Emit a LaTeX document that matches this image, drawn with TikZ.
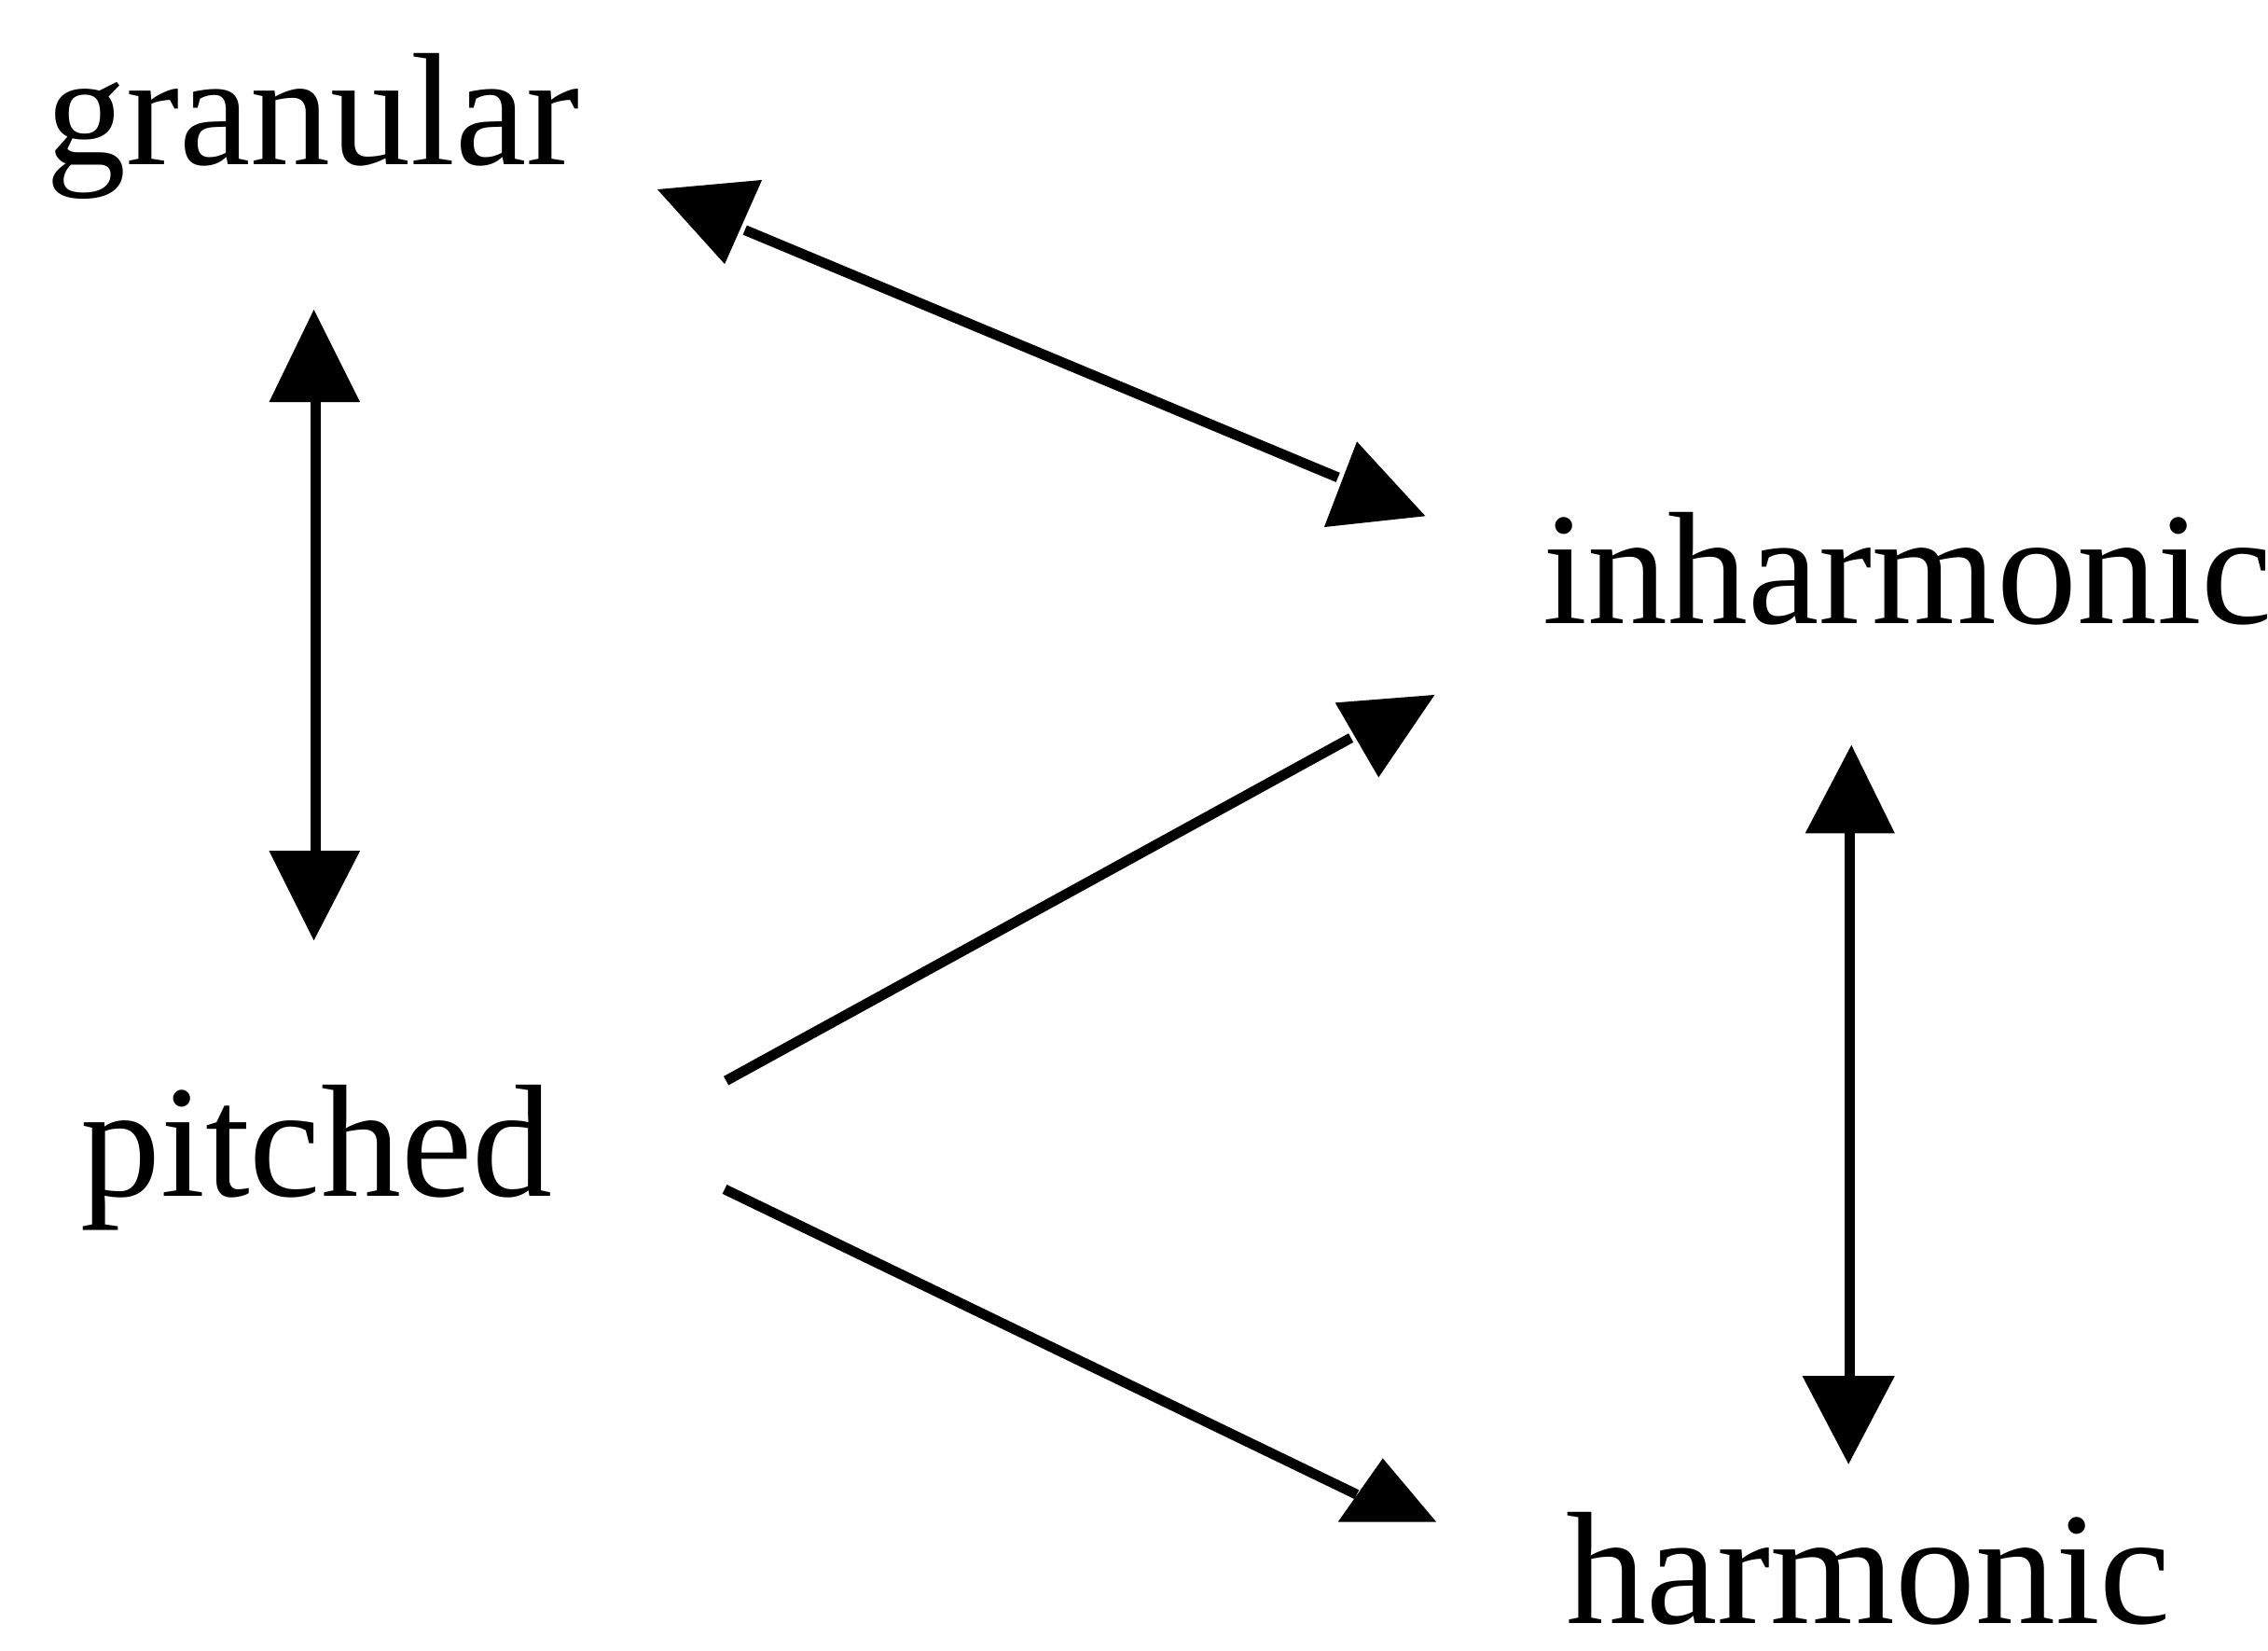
\documentclass[tikz,border=0pt]{standalone}
\usepackage{fontspec}
\setmainfont{Liberation Serif}
\begin{document}
\begin{tikzpicture}[x=0.01cm,y=-0.01cm,
  lbl/.style={anchor=base west,inner sep=0pt,text depth=0pt,
              font=\fontsize{31.5}{36}\selectfont},
  link/.style={line width=0.07cm,line cap=butt},
  tip/.style={fill=black}]
\useasboundingbox (0,0) rectangle (1568,1141);

% labels
\node[lbl] (gran)  at (31,114)   {granular};
\node[lbl] (inh)   at (1066,431) {inharmonic};
\node[lbl] (pitch) at (55,827)   {pitched};
\node[lbl] (harm)  at (1082,1122){harmonic};

% connector end points
\coordinate (gp1) at (218,277);  \coordinate (gp2) at (218,589);
\coordinate (ih1) at (1279,575); \coordinate (ih2) at (1279,952);
\coordinate (gi1) at (515,159);  \coordinate (gi2) at (925,330);
\coordinate (pi1) at (502,747);  \coordinate (pi2) at (934,510);
\coordinate (ph1) at (501,822);  \coordinate (ph2) at (938,1033);

% connectors
\draw[link] (gp1) -- (gp2);
\draw[link] (ih1) -- (ih2);
\draw[link] (gi1) -- (gi2);
\draw[link] (pi1) -- (pi2);
\draw[link] (ph1) -- (ph2);

% arrow heads
\fill[tip] (217,214) -- (186,278) -- (249,278) -- cycle;
\fill[tip] (186,588) -- (249,588) -- (217,650) -- cycle;
\fill[tip] (1280,515) -- (1248,576) -- (1310,576) -- cycle;
\fill[tip] (1246,951) -- (1310,951) -- (1278,1012) -- cycle;
\fill[tip] (454.5,130.9) -- (526.8,124.4) -- (501,182.5) -- cycle;
\fill[tip] (938.1,305.2) -- (915.5,364.3) -- (985.4,356.7) -- cycle;
\fill[tip] (923.1,485.7) -- (991.8,480.3) -- (953.1,537.3) -- cycle;
\fill[tip] (956,1008) -- (925,1052) -- (993,1052) -- cycle;
\end{tikzpicture}
\end{document}
